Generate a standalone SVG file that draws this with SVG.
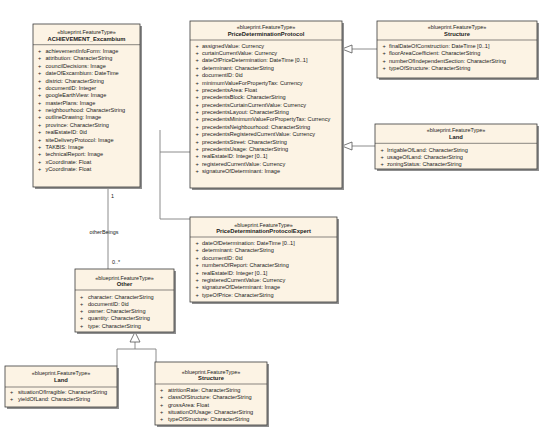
<svg xmlns="http://www.w3.org/2000/svg" width="550" height="432" viewBox="0 0 550 432">
<style>
text{font-family:"Liberation Sans",Arial,sans-serif;fill:#1a1a1a}
.sh{fill:#8f8f8f}
.bx{fill:#FCF3E4;stroke:#3a3a3a;stroke-width:0.8}
.dv{stroke:#3a3a3a;stroke-width:0.6}
.st{font-size:5.4px;text-anchor:middle}
.nm{font-size:5.8px;font-weight:bold;text-anchor:middle}
.at{font-size:5.6px}
.cn{stroke:#7f7f7f;stroke-width:0.9;fill:none}
.tri{fill:#ffffff;stroke:#555555;stroke-width:0.8}
.lb{font-size:5.4px}
</style>
<rect width="550" height="432" fill="#ffffff"/>

<g id="connectors">
  <path class="cn" d="M108,187 V269"/>
  <path class="cn" d="M377,49 H352"/>
  <polygon class="tri" points="342,49 352,45 352,53"/>
  <path class="cn" d="M375,146 H352"/>
  <polygon class="tri" points="342,146 352,142 352,150"/>
  <path class="cn" d="M190,152 H160 M160,130 V219 H190"/>
  <path class="cn" d="M135,342 V349 M117,366 V349 H156 V362"/>
  <polygon class="tri" points="135,332 130,342 140,342"/>
  <text class="lb" x="111" y="198">1</text>
  <text class="lb" x="104" y="234" text-anchor="middle">otherBeings</text>
  <text class="lb" x="112" y="264">0..*</text>
</g>

<g id="ACHIEVEMENT_Excambium">
  <rect class="sh" x="35" y="26" width="107" height="163"/>
  <rect class="bx" x="33" y="24" width="107" height="163"/>
  <line class="dv" x1="33" y1="44.7" x2="140" y2="44.7"/>
  <text class="st" x="86.5" y="34.3">«blueprint.FeatureType»</text>
  <text class="nm" x="86.5" y="40.5">ACHIEVEMENT_Excambium</text>
  <g class="at">
    <text x="38" y="53">+</text><text x="45.5" y="53">achievementInfoForm: Image</text>
    <text x="38" y="60.4">+</text><text x="45.5" y="60.4">attribution: CharacterString</text>
    <text x="38" y="67.8">+</text><text x="45.5" y="67.8">councilDecisions: Image</text>
    <text x="38" y="75.1">+</text><text x="45.5" y="75.1">dateOfExcambium: DateTime</text>
    <text x="38" y="82.5">+</text><text x="45.5" y="82.5">district: CharacterString</text>
    <text x="38" y="89.9">+</text><text x="45.5" y="89.9">documentID: Integer</text>
    <text x="38" y="97.3">+</text><text x="45.5" y="97.3">googleEarthView: Image</text>
    <text x="38" y="104.6">+</text><text x="45.5" y="104.6">masterPlans: Image</text>
    <text x="38" y="112">+</text><text x="45.5" y="112">neighbourhood: CharacterString</text>
    <text x="38" y="119.4">+</text><text x="45.5" y="119.4">outlineDrawing: Image</text>
    <text x="38" y="126.8">+</text><text x="45.5" y="126.8">province: CharacterString</text>
    <text x="38" y="134.1">+</text><text x="45.5" y="134.1">realEstateID: 0id</text>
    <text x="38" y="141.5">+</text><text x="45.5" y="141.5">siteDeliveryProtocol: Image</text>
    <text x="38" y="148.9">+</text><text x="45.5" y="148.9">TAKBIS: Image</text>
    <text x="38" y="156.3">+</text><text x="45.5" y="156.3">technicalReport: Image</text>
    <text x="38" y="163.6">+</text><text x="45.5" y="163.6">xCoordinate: Float</text>
    <text x="38" y="171">+</text><text x="45.5" y="171">yCoordinate: Float</text>
  </g>
</g>

<g id="PriceDeterminationProtocol">
  <rect class="sh" x="192" y="23" width="152" height="167"/>
  <rect class="bx" x="190" y="21" width="152" height="167"/>
  <line class="dv" x1="190" y1="40" x2="342" y2="40"/>
  <text class="st" x="266" y="28.7">«blueprint.FeatureType»</text>
  <text class="nm" x="266" y="35.5">PriceDeterminationProtocol</text>
  <g class="at">
    <text x="195.5" y="47.7">+</text><text x="202" y="47.7">assignedValue: Currency</text>
    <text x="195.5" y="55.1">+</text><text x="202" y="55.1">curtainCurrentValue: Currency</text>
    <text x="195.5" y="62.4">+</text><text x="202" y="62.4">dateOfPriceDetermination: DateTime [0..1]</text>
    <text x="195.5" y="69.8">+</text><text x="202" y="69.8">determinant: CharacterString</text>
    <text x="195.5" y="77.2">+</text><text x="202" y="77.2">documentID: 0id</text>
    <text x="195.5" y="84.5">+</text><text x="202" y="84.5">minimumValueForPropertyTax: Currency</text>
    <text x="195.5" y="91.9">+</text><text x="202" y="91.9">precedentsArea: Float</text>
    <text x="195.5" y="99.3">+</text><text x="202" y="99.3">precedentsBlock: CharacterString</text>
    <text x="195.5" y="106.7">+</text><text x="202" y="106.7">precedentsCurtainCurrentValue: Currency</text>
    <text x="195.5" y="114">+</text><text x="202" y="114">precedentsLayout: CharacterString</text>
    <text x="195.5" y="121.4">+</text><text x="202" y="121.4">precedentsMinimumValueForPropertyTax: Currency</text>
    <text x="195.5" y="128.8">+</text><text x="202" y="128.8">precedentsNeighbourhood: CharacterString</text>
    <text x="195.5" y="136.1">+</text><text x="202" y="136.1">precedentsRegisteredCurrentValue: Currency</text>
    <text x="195.5" y="143.5">+</text><text x="202" y="143.5">precedentsStreet: CharacterString</text>
    <text x="195.5" y="150.9">+</text><text x="202" y="150.9">precedentsUsage: CharacterString</text>
    <text x="195.5" y="158.2">+</text><text x="202" y="158.2">realEstateID: Integer [0..1]</text>
    <text x="195.5" y="165.6">+</text><text x="202" y="165.6">registeredCurrentValue: Currency</text>
    <text x="195.5" y="173">+</text><text x="202" y="173">signatureOfDeterminant: Image</text>
  </g>
</g>

<g id="Structure_top">
  <rect class="sh" x="379" y="23" width="160" height="57"/>
  <rect class="bx" x="377" y="21" width="160" height="57"/>
  <line class="dv" x1="377" y1="40" x2="537" y2="40"/>
  <text class="st" x="457" y="28.7">«blueprint.FeatureType»</text>
  <text class="nm" x="457" y="35.5">Structure</text>
  <g class="at">
    <text x="382.5" y="48">+</text><text x="389" y="48">finalDateOfConstruction: DateTime [0..1]</text>
    <text x="382.5" y="55.4">+</text><text x="389" y="55.4">floorAreaCoefficient: CharacterString</text>
    <text x="382.5" y="62.8">+</text><text x="389" y="62.8">numberOfIndependentSection: CharacterString</text>
    <text x="382.5" y="70.2">+</text><text x="389" y="70.2">typeOfStructure: CharacterString</text>
  </g>
</g>

<g id="Land_right">
  <rect class="sh" x="377" y="126" width="162" height="45"/>
  <rect class="bx" x="375" y="124" width="162" height="45"/>
  <line class="dv" x1="375" y1="143.3" x2="537" y2="143.3"/>
  <text class="st" x="456" y="132">«blueprint.FeatureType»</text>
  <text class="nm" x="456" y="138.8">Land</text>
  <g class="at">
    <text x="380.5" y="151.5">+</text><text x="387" y="151.5">IrrigableOfLand: CharacterString</text>
    <text x="380.5" y="158.5">+</text><text x="387" y="158.5">usageOfLand: CharacterString</text>
    <text x="380.5" y="165.5">+</text><text x="387" y="165.5">zoningStatus: CharacterString</text>
  </g>
</g>

<g id="PriceDeterminationProtocolExpert">
  <rect class="sh" x="192" y="219" width="147" height="85"/>
  <rect class="bx" x="190" y="217" width="147" height="85"/>
  <line class="dv" x1="190" y1="237" x2="337" y2="237"/>
  <text class="st" x="263.5" y="226.7">«blueprint.FeatureType»</text>
  <text class="nm" x="263.5" y="233.3">PriceDeterminationProtocolExpert</text>
  <g class="at">
    <text x="195.5" y="245">+</text><text x="202" y="245">dateOfDetermination: DateTime [0..1]</text>
    <text x="195.5" y="252.4">+</text><text x="202" y="252.4">determinant: CharacterString</text>
    <text x="195.5" y="259.8">+</text><text x="202" y="259.8">documentID: 0id</text>
    <text x="195.5" y="267.2">+</text><text x="202" y="267.2">numbersOfReport: CharacterString</text>
    <text x="195.5" y="274.6">+</text><text x="202" y="274.6">realEstateID: Integer [0..1]</text>
    <text x="195.5" y="282">+</text><text x="202" y="282">registeredCurrentValue: Currency</text>
    <text x="195.5" y="289.4">+</text><text x="202" y="289.4">signatureOfDeterminant: Image</text>
    <text x="195.5" y="296.8">+</text><text x="202" y="296.8">typeOfPrice: CharacterString</text>
  </g>
</g>

<g id="Other">
  <rect class="sh" x="77" y="271" width="99" height="63"/>
  <rect class="bx" x="75" y="269" width="99" height="63"/>
  <line class="dv" x1="75" y1="290" x2="174" y2="290"/>
  <text class="st" x="124.5" y="279.8">«blueprint.FeatureType»</text>
  <text class="nm" x="124.5" y="286.3">Other</text>
  <g class="at">
    <text x="80" y="298.7">+</text><text x="88" y="298.7">character: CharacterString</text>
    <text x="80" y="305.9">+</text><text x="88" y="305.9">documentID: 0id</text>
    <text x="80" y="313.2">+</text><text x="88" y="313.2">owner: CharacterString</text>
    <text x="80" y="320.4">+</text><text x="88" y="320.4">quantity: CharacterString</text>
    <text x="80" y="327.7">+</text><text x="88" y="327.7">type: CharacterString</text>
  </g>
</g>

<g id="Land_bottom">
  <rect class="sh" x="7" y="368" width="112" height="41"/>
  <rect class="bx" x="5" y="366" width="112" height="41"/>
  <line class="dv" x1="5" y1="387" x2="117" y2="387"/>
  <text class="st" x="61" y="375.3">«blueprint.FeatureType»</text>
  <text class="nm" x="61" y="382">Land</text>
  <g class="at">
    <text x="10" y="394">+</text><text x="18" y="394">situationOfIrragible: CharacterString</text>
    <text x="10" y="401.3">+</text><text x="18" y="401.3">yieldOfLand: CharacterString</text>
  </g>
</g>

<g id="Structure_bottom">
  <rect class="sh" x="157" y="364" width="112" height="63"/>
  <rect class="bx" x="155" y="362" width="112" height="63"/>
  <line class="dv" x1="155" y1="384" x2="267" y2="384"/>
  <text class="st" x="211" y="373.5">«blueprint.FeatureType»</text>
  <text class="nm" x="211" y="380">Structure</text>
  <g class="at">
    <text x="160" y="392">+</text><text x="168" y="392">attritionRate: CharacterString</text>
    <text x="160" y="399.3">+</text><text x="168" y="399.3">classOfStructure: CharacterString</text>
    <text x="160" y="406.6">+</text><text x="168" y="406.6">grossArea: Float</text>
    <text x="160" y="413.9">+</text><text x="168" y="413.9">situationOfUsage: CharacterString</text>
    <text x="160" y="421.2">+</text><text x="168" y="421.2">typeOfStructure: CharacterString</text>
  </g>
</g>
</svg>
